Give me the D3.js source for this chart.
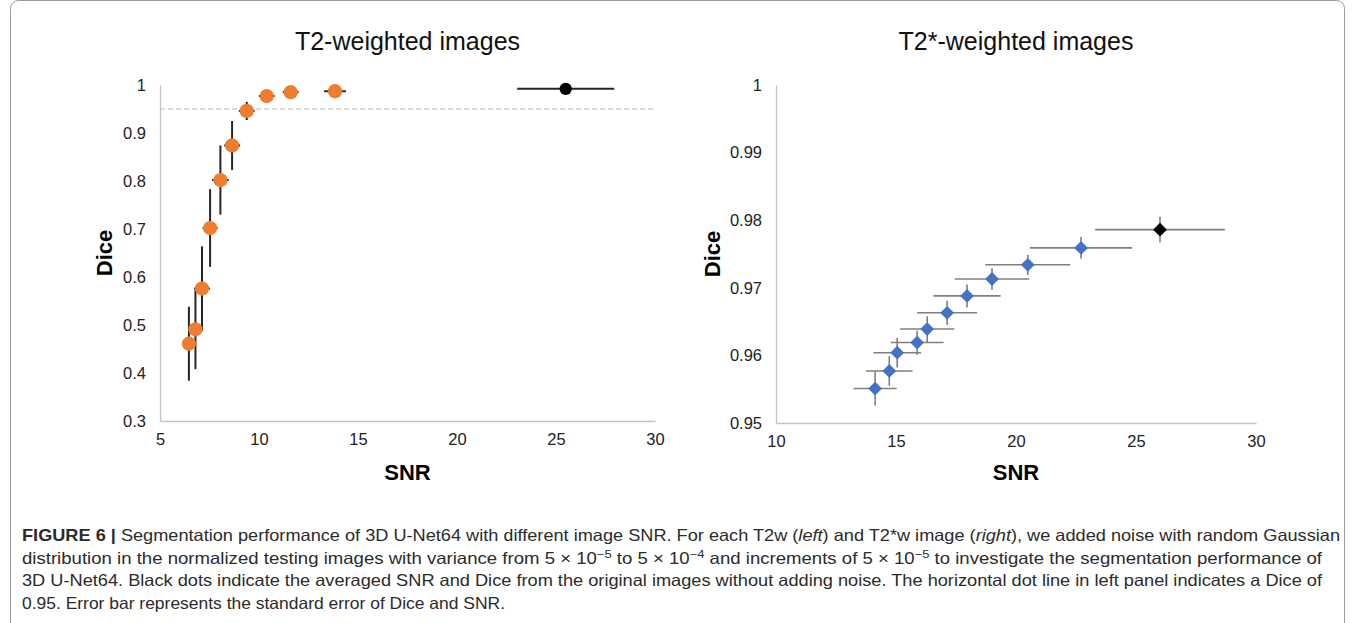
<!DOCTYPE html>
<html>
<head>
<meta charset="utf-8">
<script src="https://cdn.jsdelivr.net/npm/d3@7"></script>
<style>
  body { margin: 0; background: #fff; }
  svg { display: block; }
</style>
</head>
<body>
<div id="fig"></div>
<script>
// T2-weighted (left)
const t2Snr      = [6.46, 6.79, 7.12, 7.53, 8.05, 8.64, 9.38, 10.39, 11.6, 13.84];
const t2SnrErr   = [0.3, 0.3, 0.4, 0.38, 0.42, 0.4, 0.4, 0.4, 0.4, 0.55];
const t2Dice     = [0.461, 0.491, 0.576, 0.702, 0.802, 0.874, 0.946, 0.977, 0.985, 0.987];
const t2DiceErr  = [0.077, 0.083, 0.088, 0.081, 0.072, 0.051, 0.019, 0.004, 0.003, 0.002];
const t2Orig     = { snr: 25.49, snrErr: 2.45, dice: 0.992, diceErr: 0.002 };
const t2XTicks   = [5, 10, 15, 20, 25, 30];
const t2YTicks   = [0.3, 0.4, 0.5, 0.6, 0.7, 0.8, 0.9, 1];
const t2Thresh   = 0.95;

// T2*-weighted (right)
const t2sSnr     = [14.13, 14.72, 15.05, 15.88, 16.3, 17.13, 17.96, 19.0, 20.49, 22.71];
const t2sSnrErr  = [0.9, 0.97, 0.99, 1.1, 1.13, 1.25, 1.4, 1.55, 1.77, 2.13];
const t2sDice    = [0.9551, 0.9577, 0.9604, 0.9619, 0.9639, 0.9663, 0.9688, 0.9713, 0.9734, 0.9759];
const t2sDiceErr = [0.0025, 0.0022, 0.0022, 0.0018, 0.0019, 0.0018, 0.0017, 0.0016, 0.0015, 0.0016];
const t2sOrig    = { snr: 26.0, snrErr: 2.7, dice: 0.9786, diceErr: 0.0019 };
const t2sXTicks  = [10, 15, 20, 25, 30];
const t2sYTicks  = [0.95, 0.96, 0.97, 0.98, 0.99, 1];

const W = 1355, H = 623;
const FONT = "'Liberation Sans', Arial, Helvetica, sans-serif";

const svg = d3.select("#fig").append("svg")
    .attr("width", W)
    .attr("height", H);

// frame round the figure
svg.append("rect")
    .attr("x", 10.5).attr("y", 0.5)
    .attr("width", 1334).attr("height", 640)
    .attr("rx", 8)
    .attr("fill", "none")
    .attr("stroke", "#9a9a9a");

function drawPanel(opt) {
    const x = d3.scaleLinear().domain(opt.xDomain).range(opt.xRange);
    const y = d3.scaleLinear().domain(opt.yDomain).range(opt.yRange);
    const g = svg.append("g");
    const midX = (opt.xRange[0] + opt.xRange[1]) / 2;

    g.append("text")
        .attr("x", midX)
        .attr("y", 50)
        .attr("text-anchor", "middle")
        .style("font-family", FONT)
        .style("font-size", "25px")
        .style("fill", "#111")
        .text(opt.title);

    const xAxis = g.append("g")
        .attr("transform", `translate(0,${opt.yRange[0]})`)
        .call(d3.axisBottom(x).tickValues(opt.xTicks).tickSize(0).tickPadding(12).tickFormat(d3.format("~g")));
    const yAxis = g.append("g")
        .attr("transform", `translate(${opt.xRange[0]},0)`)
        .call(d3.axisLeft(y).tickValues(opt.yTicks).tickSize(0).tickPadding(14).tickFormat(d3.format("~g")));

    [xAxis, yAxis].forEach(a => {
        a.select(".domain").attr("stroke", "#c4c4c4").attr("stroke-width", 1.3);
        a.selectAll("text")
            .style("font-family", FONT)
            .style("font-size", "16.5px")
            .style("fill", "#222");
    });

    g.append("text")
        .attr("x", midX)
        .attr("y", 480)
        .attr("text-anchor", "middle")
        .style("font-family", FONT)
        .style("font-size", "22px")
        .style("font-weight", "bold")
        .text("SNR");

    g.append("text")
        .attr("transform", `translate(${opt.diceX},${(opt.yRange[0] + opt.yRange[1]) / 2}) rotate(-90)`)
        .attr("text-anchor", "middle")
        .style("font-family", FONT)
        .style("font-size", "22px")
        .style("font-weight", "bold")
        .text("Dice");

    if (opt.thresh != null) {
        g.append("line")
            .attr("x1", opt.xRange[0]).attr("x2", opt.xRange[1])
            .attr("y1", y(opt.thresh)).attr("y2", y(opt.thresh))
            .attr("stroke", "#b5b5b5")
            .attr("stroke-width", 1.2)
            .attr("stroke-dasharray", "5,3");
    }

    const pts = opt.snr.map((s, i) => ({
        snr: s, snrErr: opt.snrErr[i], dice: opt.dice[i], diceErr: opt.diceErr[i], orig: false
    }));
    pts.push(Object.assign({ orig: true }, opt.orig));

    const bars = g.append("g");
    bars.selectAll(".ebx").data(pts).enter().append("line")
        .attr("x1", d => x(d.snr - d.snrErr)).attr("x2", d => x(d.snr + d.snrErr))
        .attr("y1", d => y(d.dice)).attr("y2", d => y(d.dice))
        .attr("stroke", opt.barColor).attr("stroke-width", opt.barWidth);
    bars.selectAll(".eby").data(pts).enter().append("line")
        .attr("x1", d => x(d.snr)).attr("x2", d => x(d.snr))
        .attr("y1", d => y(d.dice - d.diceErr)).attr("y2", d => y(d.dice + d.diceErr))
        .attr("stroke", opt.barColor).attr("stroke-width", opt.barWidth);

    const sym = d3.symbol().type(opt.shape).size(opt.markSize);
    g.append("g").selectAll("path").data(pts).enter().append("path")
        .attr("transform", d => `translate(${x(d.snr)},${y(d.dice)})` + (opt.shape === d3.symbolSquare ? " rotate(45)" : ""))
        .attr("d", d => d.orig ? d3.symbol().type(opt.shape).size(opt.origSize)() : sym())
        .attr("fill", d => d.orig ? "#000" : opt.color);
}

drawPanel({
    title: "T2-weighted images",
    xDomain: [5, 30], xRange: [160, 655],
    yDomain: [0.3, 1], yRange: [421, 85],
    xTicks: t2XTicks, yTicks: t2YTicks, diceX: 112,
    snr: t2Snr, snrErr: t2SnrErr, dice: t2Dice, diceErr: t2DiceErr, orig: t2Orig,
    thresh: t2Thresh, color: "#ee7d2f", shape: d3.symbolCircle,
    markSize: 160, origSize: 120, barColor: "#262626", barWidth: 2
});

drawPanel({
    title: "T2*-weighted images",
    xDomain: [10, 30], xRange: [776, 1256],
    yDomain: [0.95, 1], yRange: [423, 85],
    xTicks: t2sXTicks, yTicks: t2sYTicks, diceX: 720,
    snr: t2sSnr, snrErr: t2sSnrErr, dice: t2sDice, diceErr: t2sDiceErr, orig: t2sOrig,
    thresh: null, color: "#4472c4", shape: d3.symbolSquare,
    markSize: 95, origSize: 95, barColor: "#7f7f7f", barWidth: 1.6
});

// caption
const capLines = [
    { len: 1318, parts: [["FIGURE 6 | ", "b"], ["Segmentation performance of 3D U-Net64 with different image SNR. For each T2w ("], ["left", "i"], [") and T2*w image ("], ["right", "i"], ["), we added noise with random Gaussian"]] },
    { len: 1300, parts: [["distribution in the normalized testing images with variance from 5 \u00d7 10"], ["\u22125", "s"], [" to 5 \u00d7 10"], ["\u22124", "s"], [" and increments of 5 \u00d7 10"], ["\u22125", "s"], [" to investigate the segmentation performance of"]] },
    { len: 1300, parts: [["3D U-Net64. Black dots indicate the averaged SNR and Dice from the original images without adding noise. The horizontal dot line in left panel indicates a Dice of"]] },
    { len: 483, parts: [["0.95. Error bar represents the standard error of Dice and SNR."]] }
];

capLines.forEach((ln, i) => {
    const t = svg.append("text")
        .attr("x", 22)
        .attr("y", 541 + i * 22.5)
        .attr("textLength", ln.len)
        .attr("lengthAdjust", "spacingAndGlyphs")
        .style("font-family", FONT)
        .style("font-size", "16.5px")
        .style("fill", "#2b2b2b");
    ln.parts.forEach(p => {
        const s = t.append("tspan").text(p[0]);
        if (p[1] === "b") s.style("font-weight", "bold");
        if (p[1] === "i") s.style("font-style", "italic");
        if (p[1] === "s") s.attr("baseline-shift", "super").style("font-size", "11.5px");
    });
});
</script>
</body>
</html>
